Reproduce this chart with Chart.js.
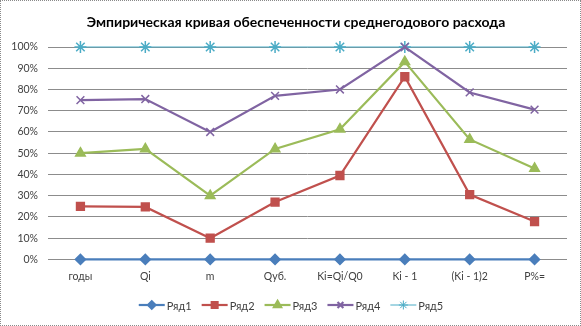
<!DOCTYPE html>
<html>
<head>
<meta charset="utf-8">
<script src="https://cdn.jsdelivr.net/npm/chart.js@4/dist/chart.umd.min.js"></script>
<style>
    body { margin: 0; background: #fff; }
    #wrap { width: 581px; height: 326px; box-sizing: border-box; border: 1px dotted #8a8a8a; }
</style>
</head>
<body>
<div id="wrap"><canvas id="chart" width="579" height="324"></canvas></div>
<script>
// Data (percent)
const categories = ['годы', 'Qi', 'm', 'Qyб.', 'Ki=Qi/Q0', 'Ki - 1', '(Ki - 1)2', 'P%='];
const yTicks = [0, 10, 20, 30, 40, 50, 60, 70, 80, 90, 100];
const row1 = [0, 0, 0, 0, 0, 0, 0, 0];
const row2 = [25, 24.7, 10, 27, 39.5, 86, 30.5, 17.8];
const row3 = [50, 52, 30, 52, 61.3, 93, 56.5, 42.8];
const row4 = [75, 75.5, 60, 77, 80, 100, 78.6, 70.5];
const row5 = [100, 100, 100, 100, 100, 100, 100, 100];

const TITLE = 'Эмпирическая кривая обеспеченности среднегодового расхода';
const FONT = 'Lato, "Open Sans", sans-serif';

// Title drawn by hand so it can sit where Excel put it
const titlePlugin = {
    id: 'titlePlugin',
    afterDraw(chart) {
        const ctx = chart.ctx;
        ctx.save();
        ctx.font = 'bold 14px ' + FONT;
        ctx.fillStyle = '#000';
        ctx.textAlign = 'center';
        ctx.textBaseline = 'middle';
        ctx.fillText(TITLE, 295, 21);
        ctx.restore();
    }
};

// Excel-style legend: short line with the marker in the middle
const lineLegend = {
    id: 'lineLegend',
    afterDraw(chart) {
        const ctx = chart.ctx;
        const sets = chart.data.datasets;
        const lineW = 26, gap = 2, itemGap = 10;
        ctx.save();
        ctx.font = '11px ' + FONT;
        const widths = sets.map(ds => lineW + gap + ctx.measureText(ds.label).width);
        const total = widths.reduce((a, b) => a + b, 0) + itemGap * (sets.length - 1);
        let x = 290 - total / 2;
        const y = 304;
        sets.forEach((ds, i) => {
            ctx.strokeStyle = ds.borderColor;
            ctx.lineWidth = ds.borderWidth;
            ctx.beginPath();
            ctx.moveTo(x, y);
            ctx.lineTo(x + lineW, y);
            ctx.stroke();
            ctx.fillStyle = ds.pointBackgroundColor;
            ctx.strokeStyle = ds.pointBorderColor;
            Chart.helpers.drawPoint(ctx, {
                pointStyle: ds.pointStyle,
                radius: ds.pointRadius * 0.75,
                borderWidth: 1
            }, x + lineW / 2, y);
            ctx.fillStyle = '#404040';
            ctx.textBaseline = 'middle';
            ctx.fillText(ds.label, x + lineW + gap, y + 1);
            x += widths[i] + itemGap;
        });
        ctx.restore();
    }
};

function series(label, data, color, style, radius, width) {
    return {
        label: label,
        data: data,
        borderColor: color,
        backgroundColor: color,
        pointBackgroundColor: color,
        pointBorderColor: color,
        pointStyle: style,
        pointRadius: radius,
        pointHoverRadius: radius,
        pointBorderWidth: 1.5,
        borderWidth: width,
        tension: 0,
        clip: false
    };
}

new Chart(document.getElementById('chart'), {
    type: 'line',
    data: {
        labels: categories,
        datasets: [
            series('Ряд1', row1, '#4a7ebb', 'rectRot', 5, 2.2),
            series('Ряд2', row2, '#c0504d', 'rect', 5.5, 2.2),
            series('Ряд3', row3, '#9bbb59', 'triangle', 5.5, 2.2),
            series('Ряд4', row4, '#8064a2', 'crossRot', 5.5, 2.2),
            series('Ряд5', row5, '#4bacc6', 'star', 6, 1)
        ]
    },
    options: {
        responsive: false,
        animation: false,
        layout: { padding: { left: 0, right: 13, top: 46, bottom: 31 } },
        plugins: {
            legend: { display: false },
            tooltip: { enabled: false },
            title: { display: false }
        },
        scales: {
            x: {
                offset: true,
                grid: { display: false, drawTicks: false },
                border: { display: false },
                ticks: { color: '#404040', font: { family: FONT, size: 10.5 }, padding: 11, maxRotation: 0, autoSkip: false }
            },
            y: {
                min: 0,
                max: 100,
                afterFit: s => { s.width = 47; },
                afterBuildTicks: s => { s.ticks = yTicks.map(v => ({ value: v })); },
                grid: { color: '#8c8c8c', lineWidth: 1, drawTicks: false },
                border: { display: false },
                ticks: {
                    color: '#404040',
                    font: { family: FONT, size: 10.5 },
                    padding: 10,
                    callback: v => v + '%'
                }
            }
        }
    },
    plugins: [titlePlugin, lineLegend]
});
</script>
</body>
</html>
